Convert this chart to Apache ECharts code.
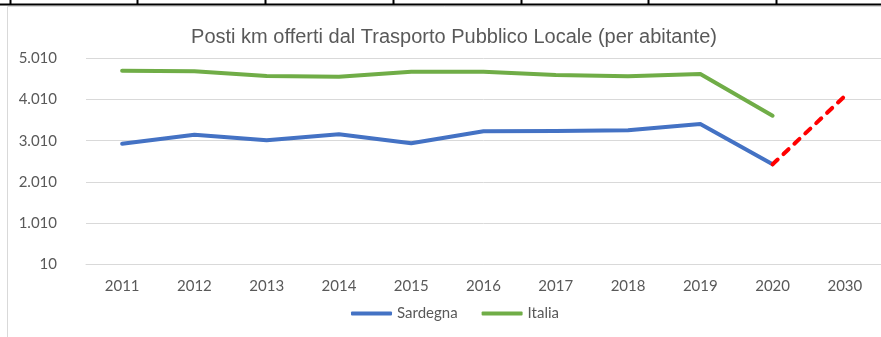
<!DOCTYPE html>
<html>
<head>
<meta charset="utf-8">
<script src="https://cdn.jsdelivr.net/npm/echarts@6/dist/echarts.min.js"></script>
<style>
  html, body { margin: 0; padding: 0; background: #ffffff; }
  #chart { width: 881px; height: 337px; }
</style>
</head>
<body>
<div id="chart"></div>
<script>
// Posti km offerti per abitante
var years = ['2011', '2012', '2013', '2014', '2015', '2016', '2017', '2018', '2019', '2020', '2030'];
var sardegna = [2937, 3156, 3020, 3165, 2947, 3238, 3245, 3262, 3415, 2437, null];
var italia = [4709, 4694, 4580, 4563, 4685, 4685, 4605, 4573, 4629, 3617, null];
var obiettivo2030 = [null, null, null, null, null, null, null, null, null, 2437, 4095];
var yTicks = [10, 1010, 2010, 3010, 4010, 5010];

// thousands separator with a dot
function fmt(v) {
  return String(Math.round(v)).replace(/\B(?=(\d{3})+(?!\d))/g, '.');
}

var labelColor = '#595959';
var gridColor = '#D9D9D9';
var bodyFont = 'Lato';

// table borders above the chart frame
var graphics = [
  { type: 'line', shape: { x1: 0, y1: 4.5, x2: 881, y2: 4.5 }, style: { stroke: '#000', lineWidth: 2 }, silent: true },
  { type: 'rect', shape: { x: 7.5, y: 6.5, width: 900, height: 400 }, style: { fill: 'none', stroke: '#D9D9D9', lineWidth: 1 }, silent: true }
];
[10, 137, 265, 393, 521, 648, 776].forEach(function (x) {
  graphics.push({ type: 'line', shape: { x1: x + 0.5, y1: 0, x2: x + 0.5, y2: 4 }, style: { stroke: '#000', lineWidth: 2 }, silent: true });
});

var chart = echarts.init(document.getElementById('chart'), null, { renderer: 'canvas' });
chart.setOption({
  animation: false,
  backgroundColor: '#ffffff',
  graphic: graphics,
  title: {
    text: 'Posti km offerti dal Trasporto Pubblico Locale (per abitante)',
    left: 449,
    textAlign: 'center',
    top: 22,
    textStyle: {
      fontFamily: 'Liberation Sans',
      fontSize: 20,
      fontWeight: 'normal',
      color: labelColor
    }
  },
  legend: {
    data: [
      { name: 'Sardegna', icon: 'roundRect' },
      { name: 'Italia', icon: 'roundRect' }
    ],
    left: 351,
    top: 306,
    padding: 0,
    itemWidth: 41,
    itemHeight: 4,
    itemGap: 24,
    itemStyle: { borderWidth: 0 },
    textStyle: { fontFamily: bodyFont, fontSize: 15, color: labelColor }
  },
  grid: { left: 86, right: -3, top: 58.3, bottom: 72.7, containLabel: false },
  xAxis: {
    type: 'category',
    data: years,
    boundaryGap: true,
    axisLine: { show: true, lineStyle: { color: gridColor, width: 1 } },
    axisTick: { show: false },
    axisLabel: { fontFamily: bodyFont, fontSize: 15, color: labelColor, margin: 14 }
  },
  yAxis: {
    type: 'value',
    min: 10,
    max: 5010,
    axisLine: { show: false },
    axisTick: { show: false, customValues: yTicks },
    axisLabel: {
      customValues: yTicks,
      fontFamily: bodyFont,
      fontSize: 15,
      color: labelColor,
      margin: 29,
      formatter: function (v) { return fmt(v); }
    },
    splitLine: { show: true, lineStyle: { color: gridColor, width: 1 } }
  },
  series: [
    {
      name: 'Sardegna',
      type: 'line',
      data: sardegna,
      symbol: 'none',
      color: '#4472C4',
      lineStyle: { color: '#4472C4', width: 4, join: 'round', cap: 'round' },
      z: 3
    },
    {
      name: 'Italia',
      type: 'line',
      data: italia,
      symbol: 'none',
      color: '#70AD47',
      lineStyle: { color: '#70AD47', width: 4, join: 'round', cap: 'round' },
      z: 3
    },
    {
      name: '2030',
      type: 'line',
      data: obiettivo2030,
      symbol: 'none',
      color: '#FF0000',
      lineStyle: { color: '#FF0000', width: 4, type: [7, 8], cap: 'round' },
      z: 4
    }
  ]
});
</script>
</body>
</html>
